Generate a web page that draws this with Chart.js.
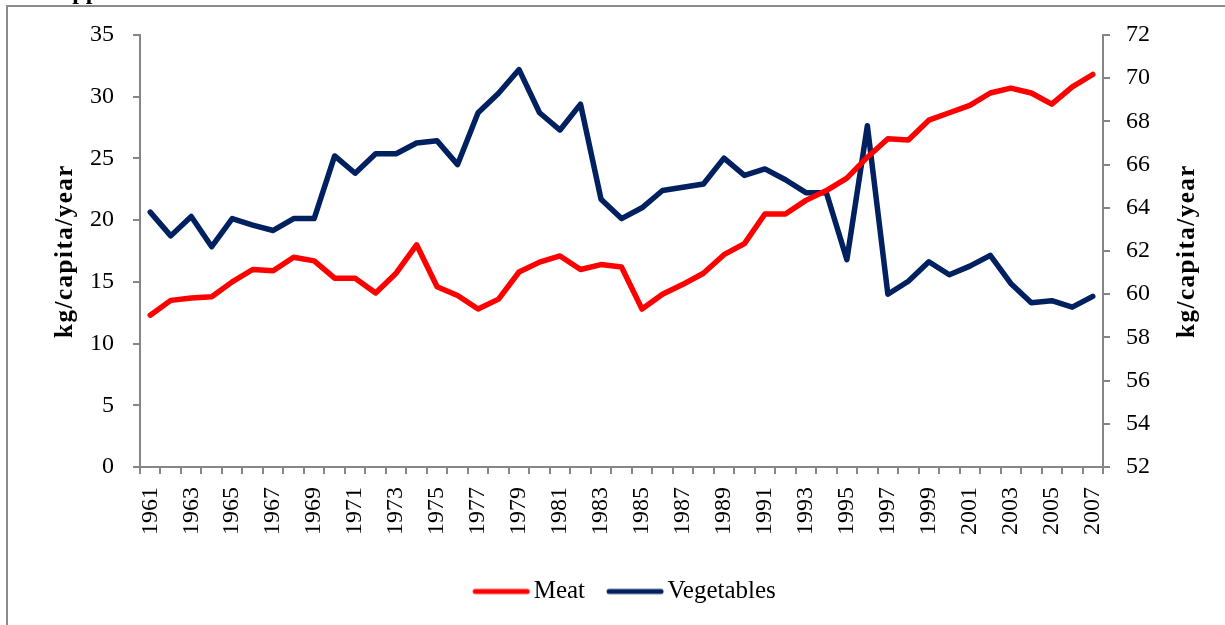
<!DOCTYPE html>
<html>
<head>
<meta charset="utf-8">
<script src="https://cdn.jsdelivr.net/npm/chart.js@4.4.1/dist/chart.umd.min.js"></script>
<style>
  html, body { margin: 0; padding: 0; background: #fff; width: 1225px; height: 625px; overflow: hidden; }
  #wrap { position: absolute; left: 0; top: 0; width: 1225px; height: 625px; }
  #frame { position: absolute; left: 6px; top: 5px; width: 1300px; height: 700px; border-left: 2px solid #8c8c8c; border-top: 2px solid #8c8c8c; pointer-events: none; }
  #head { position: absolute; left: 55px; top: -21px; font: bold 24px "Liberation Serif", serif; line-height: 24px; color: #000; white-space: nowrap; }
</style>
</head>
<body>
<div id="wrap"><canvas id="c" width="1225" height="625"></canvas></div>
<div id="frame"></div>
<div id="head">Appendix</div>
<script>
const years = [1961,1962,1963,1964,1965,1966,1967,1968,1969,1970,1971,1972,1973,1974,1975,1976,1977,1978,1979,1980,1981,1982,1983,1984,1985,1986,1987,1988,1989,1990,1991,1992,1993,1994,1995,1996,1997,1998,1999,2000,2001,2002,2003,2004,2005,2006,2007];
const meat = [12.3,13.5,13.7,13.8,15.0,16.0,15.9,17.0,16.7,15.3,15.3,14.1,15.7,18.0,14.6,13.9,12.8,13.6,15.8,16.6,17.1,16.0,16.4,16.2,12.8,14.0,14.8,15.7,17.2,18.1,20.5,20.5,21.6,22.4,23.4,25.1,26.6,26.5,28.1,28.7,29.3,30.3,30.7,30.3,29.4,30.8,31.8];
const vegetables = [63.8,62.7,63.6,62.2,63.5,63.2,62.95,63.5,63.5,66.4,65.6,66.5,66.5,67.0,67.1,66.0,68.4,69.3,70.4,68.4,67.6,68.8,64.4,63.5,64.0,64.8,64.95,65.1,66.3,65.5,65.8,65.3,64.7,64.7,61.6,67.8,60.0,60.6,61.5,60.9,61.3,61.8,60.5,59.6,59.7,59.4,59.9];
const leftTicks = {min: 0, max: 35, step: 5};
const rightTicks = {min: 52, max: 72, step: 2};
const axisTitle = "kg/capita/year";
const seriesNames = ["Meat", "Vegetables"];
const seriesColors = ["#FF0000", "#002060"];

const FONT = '"Liberation Serif", "Times New Roman", serif';
const AXIS = '#868686';

function legendLine(color) {
  const cv = document.createElement('canvas');
  cv.width = 74; cv.height = 8;
  const g = cv.getContext('2d');
  g.strokeStyle = color; g.lineWidth = 5; g.lineCap = 'round';
  g.beginPath(); g.moveTo(17, 4); g.lineTo(69, 4); g.stroke();
  return cv;
}

const titlePlugin = {
  id: 'sideTitles',
  afterDraw(chart) {
    const ctx = chart.ctx, ca = chart.chartArea;
    const cy = (ca.top + ca.bottom) / 2;
    ctx.save();
    ctx.font = 'bold 25px ' + FONT;
    if ('letterSpacing' in ctx) ctx.letterSpacing = '1.5px';
    ctx.fillStyle = '#000';
    ctx.textAlign = 'center';
    ctx.textBaseline = 'middle';
    [66, 1188].forEach(x => {
      ctx.save();
      ctx.translate(x, cy);
      ctx.rotate(-Math.PI / 2);
      ctx.fillText(axisTitle, 0, 0);
      ctx.restore();
    });
    ctx.restore();
  }
};

new Chart(document.getElementById('c'), {
  type: 'line',
  data: {
    labels: years.map(String),
    datasets: [
      { label: seriesNames[0], data: meat, yAxisID: 'y', borderColor: seriesColors[0], backgroundColor: seriesColors[0], borderWidth: 5.5, pointRadius: 0, pointStyle: legendLine(seriesColors[0]), tension: 0, borderCapStyle: 'round', borderJoinStyle: 'round' },
      { label: seriesNames[1], data: vegetables, yAxisID: 'y1', borderColor: seriesColors[1], backgroundColor: seriesColors[1], borderWidth: 5.5, pointRadius: 0, pointStyle: legendLine(seriesColors[1]), tension: 0, borderCapStyle: 'round', borderJoinStyle: 'round' }
    ]
  },
  options: {
    responsive: false,
    animation: false,
    layout: { padding: { left: 20, right: 0, top: 35, bottom: 11 } },
    plugins: {
      legend: {
        position: 'bottom',
        labels: {
          usePointStyle: true, pointStyleWidth: 52, boxHeight: 8,
          font: { family: FONT, size: 25 }, color: '#000', padding: 18
        }
      },
      tooltip: { enabled: false }
    },
    scales: {
      x: {
        offset: true,
        grid: { display: true, drawOnChartArea: false, drawTicks: true, tickLength: 7, color: AXIS, lineWidth: 2, offset: true },
        border: { display: true, color: AXIS, width: 2 },
        ticks: {
          autoSkip: false, minRotation: 90, maxRotation: 90, padding: 13,
          font: { family: FONT, size: 24 }, color: '#000',
          callback: (v, i) => (i % 2 === 0 ? years[i] : '')
        },
        afterFit(s) { s.height = 94; }
      },
      y: {
        position: 'left', min: leftTicks.min, max: leftTicks.max,
        grid: { drawOnChartArea: false, tickLength: 7, color: AXIS, lineWidth: 2 },
        border: { display: true, color: AXIS, width: 2 },
        ticks: { stepSize: leftTicks.step, padding: 19, font: { family: FONT, size: 24 }, color: '#000' },
        afterFit(s) { s.width = 120; }
      },
      y1: {
        position: 'right', min: rightTicks.min, max: rightTicks.max,
        grid: { drawOnChartArea: false, tickLength: 7, color: AXIS, lineWidth: 2 },
        border: { display: true, color: AXIS, width: 2 },
        ticks: { stepSize: rightTicks.step, padding: 16, font: { family: FONT, size: 24 }, color: '#000' },
        afterFit(s) { s.width = 122; }
      }
    }
  },
  plugins: [titlePlugin]
});
</script>
</body>
</html>
